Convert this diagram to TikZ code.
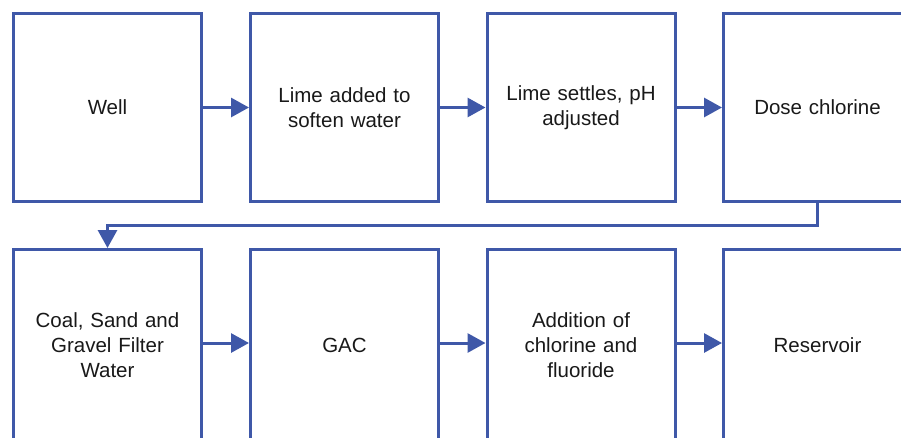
\documentclass[tikz,border=0pt]{standalone}
\usepackage{fontspec}
\setmainfont{Liberation Sans}
\usetikzlibrary{arrows.meta,calc}
\definecolor{flowblue}{RGB}{63,88,168}
\definecolor{flowtext}{RGB}{25,25,25}
\tikzset{
  stage/.style={draw=flowblue, line width=3pt, fill=white,
    minimum width=188pt, minimum height=188pt, inner sep=0pt,
    text width=176pt, align=center, text=flowtext,
    font=\fontsize{20.5}{25}\selectfont},
  lowstage/.style={stage, minimum height=192pt},
  flow/.style={draw=flowblue, line width=3pt,
    -{Triangle[length=18pt,width=19pt]}},
}
\begin{document}
\begin{tikzpicture}[x=1pt,y=-1pt]
  \useasboundingbox (0,0) rectangle (901,437);
  % top row
  \node[stage] (well)   at (107.5,107.5) {Well};
  \node[stage] (lime)   at (344.5,107.5) {Lime added to\\soften water};
  \node[stage] (settle) at (581,107.5)   {Lime settles, pH\\adjusted};
  \node[stage] (dose)   at (817.5,107.5) {Dose chlorine};
  % bottom row
  \node[lowstage] (filter) at (107.5,345.5) {Coal, Sand and\\Gravel Filter\\Water};
  \node[lowstage] (gac)    at (344.5,345.5) {GAC};
  \node[lowstage] (add)    at (581,345.5)   {Addition of\\chlorine and\\fluoride};
  \node[lowstage] (res)    at (817.5,345.5) {Reservoir};
  % connectors
  \draw[flow] (well) -- (lime);
  \draw[flow] (lime) -- (settle);
  \draw[flow] (settle) -- (dose);
  \coordinate (turn) at (0,225);
  \draw[flow] (dose.south) -- (dose.south |- turn) -- (filter.north |- turn) -- (filter.north);
  \draw[flow] (filter.east |- 0,343) -- (gac.west |- 0,343);
  \draw[flow] (gac.east |- 0,343) -- (add.west |- 0,343);
  \draw[flow] (add.east |- 0,343) -- (res.west |- 0,343);
\end{tikzpicture}
\end{document}
